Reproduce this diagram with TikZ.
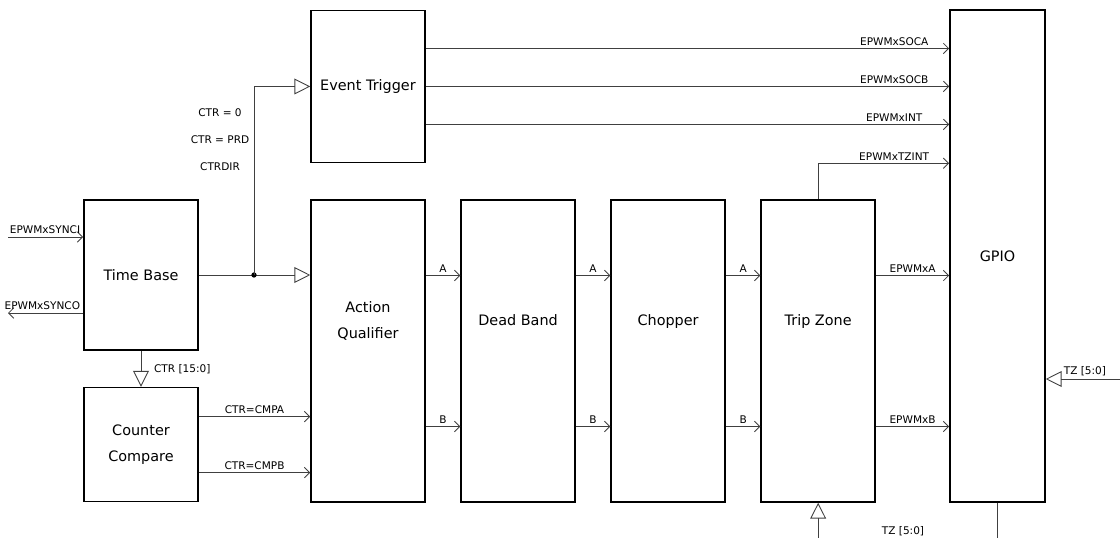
\documentclass[tikz,border=0pt]{standalone}
\usepackage{fontspec}
\setmainfont{DejaVu Sans}
\usetikzlibrary{arrows.meta,positioning,calc}

\begin{document}
\begin{tikzpicture}[
    x=0.02cm, y=-0.02cm,
    node distance=0.69cm and 0.69cm,
    block/.style={rectangle, draw, line width=0.9pt, align=center, minimum width=2.28cm, font=\fontsize{8.2}{14.8}\selectfont},
    tall/.style={minimum height=6.04cm, text depth=1.25cm},
    sig/.style={draw=black!75, line width=0.5pt},
    arrow/.style={sig, -{Straight Barb[length=3pt,width=6pt]}},
    bus/.style={sig, -{Triangle[open, length=9pt, width=9pt]}},
    lbl/.style={font=\fontsize{6}{7}\selectfont, inner sep=1.5pt}
]
\useasboundingbox (0,0) rectangle (1120,538);

% Time Base
\node[block, minimum height=3cm] (tb) at (141,275) {Time Base};

% Counter Compare
\node[block, minimum height=2.28cm, below=0.72cm of tb] (cc) {Counter\\Compare};

% Action Qualifier
\node[block, tall] (aq) at (368,351) {Action\\Qualifier};

% Event Trigger
\node[block, minimum height=3.04cm, above=0.72cm of aq] (et) {Event Trigger};

% Dead Band, Chopper, Trip Zone
\node[block, tall, right=of aq] (db) {Dead Band};
\node[block, tall, right=of db] (ch) {Chopper};
\node[block, tall, right=of ch] (tz) {Trip Zone};

% GPIO
\node[block, minimum width=1.9cm, minimum height=9.84cm] (gpio) at (997.5,256) {GPIO};

% Free ends
\coordinate (syncin) at (8,237);
\coordinate (syncout) at (8,313);
\coordinate (split) at (254,275);
\coordinate (tzpins) at (tz.south |- 0,538);
\coordinate (gpiopins) at (gpio.south |- 0,538);
\coordinate (tzright) at (1120,379);

% Sync in/out
\draw[arrow] (syncin) -- (syncin -| tb.west) node[lbl, above left, pos=1] {EPWMxSYNCI};
\draw[arrow] (syncout -| tb.west) -- (syncout) node[lbl, above left, pos=0] {EPWMxSYNCO};

% Counter to qualifier and event trigger
\draw[bus] (tb.east) -- (tb.east -| aq.west);
\fill (split) circle (1.5pt);
\draw[bus] (split) |- (et.west);
\node[lbl] (ctrzero) at (220,113) {CTR = 0};
\node[lbl] (ctrprd) at (220,140) {CTR = PRD};
\node[lbl] (ctrdir) at (220,167) {CTRDIR};

% Counter to compare
\draw[bus] (tb.south) -- (cc.north) node[lbl, right, midway, xshift=0.2cm] {CTR [15:0]};

% Compare events
\draw[arrow] ([yshift=0.56cm]cc.east) -- ([yshift=0.56cm]cc.east -| aq.west) node[lbl, above, midway] {CTR=CMPA};
\draw[arrow] ([yshift=-0.56cm]cc.east) -- ([yshift=-0.56cm]cc.east -| aq.west) node[lbl, above, midway] {CTR=CMPB};

% A/B channels
\draw[arrow] ([yshift=1.51cm]aq.east) -- ([yshift=1.51cm]db.west) node[lbl, above, midway] {A};
\draw[arrow] ([yshift=-1.51cm]aq.east) -- ([yshift=-1.51cm]db.west) node[lbl, above, midway] {B};
\draw[arrow] ([yshift=1.51cm]db.east) -- ([yshift=1.51cm]ch.west) node[lbl, above, midway] {A};
\draw[arrow] ([yshift=-1.51cm]db.east) -- ([yshift=-1.51cm]ch.west) node[lbl, above, midway] {B};
\draw[arrow] ([yshift=1.51cm]ch.east) -- ([yshift=1.51cm]tz.west) node[lbl, above, midway] {A};
\draw[arrow] ([yshift=-1.51cm]ch.east) -- ([yshift=-1.51cm]tz.west) node[lbl, above, midway] {B};

% Outputs to GPIO
\draw[arrow] ([yshift=1.51cm]tz.east) -- ([yshift=1.51cm]tz.east -| gpio.west) node[lbl, above, midway] {EPWMxA};
\draw[arrow] ([yshift=-1.51cm]tz.east) -- ([yshift=-1.51cm]tz.east -| gpio.west) node[lbl, above, midway] {EPWMxB};

% Event trigger outputs
\draw[arrow] ([yshift=0.76cm]et.east) -- ([yshift=0.76cm]et.east -| gpio.west) node[lbl, above, pos=0.895] {EPWMxSOCA};
\draw[arrow] (et.east) -- (et.east -| gpio.west) node[lbl, above, pos=0.895] {EPWMxSOCB};
\draw[arrow] ([yshift=-0.76cm]et.east) -- ([yshift=-0.76cm]et.east -| gpio.west) node[lbl, above, pos=0.895] {EPWMxINT};
\draw[arrow] (tz.north) |- (et.south -| gpio.west) node[lbl, above, pos=0.79] {EPWMxTZINT};

% Trip zone inputs
\draw[bus] (tzpins) -- (tz.south);
\node[lbl] (tzlabel) at (903,531) {TZ [5:0]};
\draw[sig] (gpio.south) -- (gpiopins);
\draw[bus] (tzright) -- (tzright -| gpio.east) node[lbl, above right, pos=1, xshift=0.3cm] {TZ [5:0]};

\end{tikzpicture}
\end{document}
